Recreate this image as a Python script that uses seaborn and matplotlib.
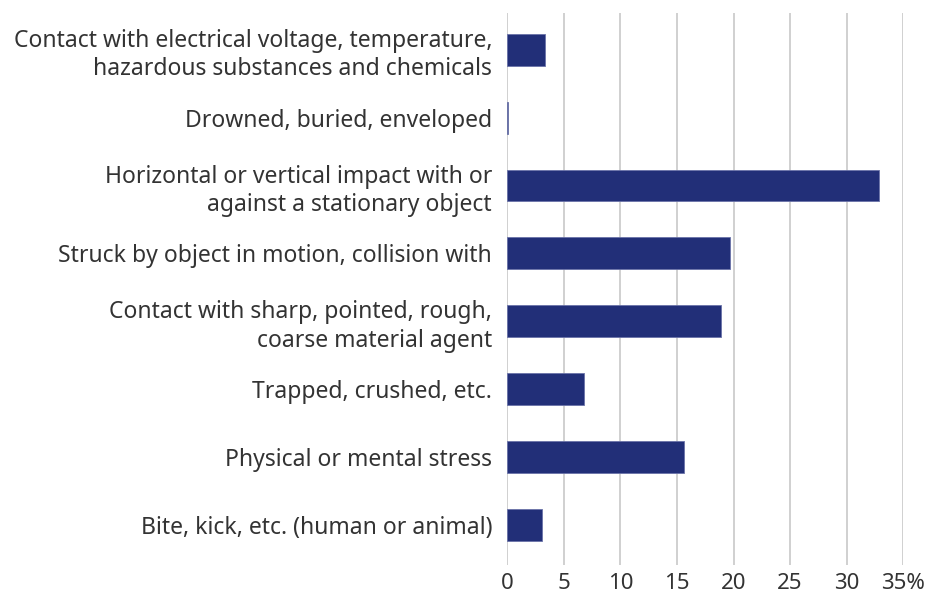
import pandas as pd
import matplotlib
matplotlib.use("Agg")
import matplotlib.pyplot as plt
import seaborn as sns

# --------------------------------
# DATA
# --------------------------------

categories = [
    "Contact with electrical voltage, temperature,\nhazardous substances and chemicals",
    "Drowned, buried, enveloped",
    "Horizontal or vertical impact with or\nagainst a stationary object",
    "Struck by object in motion, collision with",
    "Contact with sharp, pointed, rough,\ncoarse material agent",
    "Trapped, crushed, etc.",
    "Physical or mental stress",
    "Bite, kick, etc. (human or animal)",
]

shares = [3.3, 0.05, 32.9, 19.7, 18.9, 6.8, 15.6, 3.1]

tick_values = [0, 5, 10, 15, 20, 25, 30, 35]
tick_labels = ["0", "5", "10", "15", "20", "25", "30", "35%"]

df = pd.DataFrame({"category": categories, "share": shares})

# --------------------------------
# PLOT
# --------------------------------

sns.set_style("white")
plt.rcParams["font.family"] = ["Noto Sans", "DejaVu Sans"]

fig, ax = plt.subplots(figsize=(9.36, 5.99), dpi=100)
fig.subplots_adjust(left=0.542, right=0.965, top=0.978, bottom=0.057)

sns.barplot(
    data=df,
    x="share",
    y="category",
    color="#222f78",
    saturation=1,
    width=0.47,
    edgecolor="#6a73a8",
    linewidth=0.6,
    ax=ax,
)

ax.set_xlim(0, 35)
ax.set_ylim(7.59, -0.54)
ax.set_xticks(tick_values)
ax.set_xticklabels(tick_labels)
ax.xaxis.grid(True, color="#c8c8c8", linewidth=1.2)
ax.set_axisbelow(True)

for s in ax.spines.values():
    s.set_visible(False)

ax.tick_params(axis="y", length=0, labelsize=16.5, labelcolor="#333333", pad=11)
ax.tick_params(axis="x", length=0, labelsize=16, labelcolor="#333333", pad=6)

for lbl in ax.get_yticklabels():
    lbl.set_linespacing(1.25)

ax.set_xlabel("")
ax.set_ylabel("")

fig.savefig("out.png", dpi=100)
